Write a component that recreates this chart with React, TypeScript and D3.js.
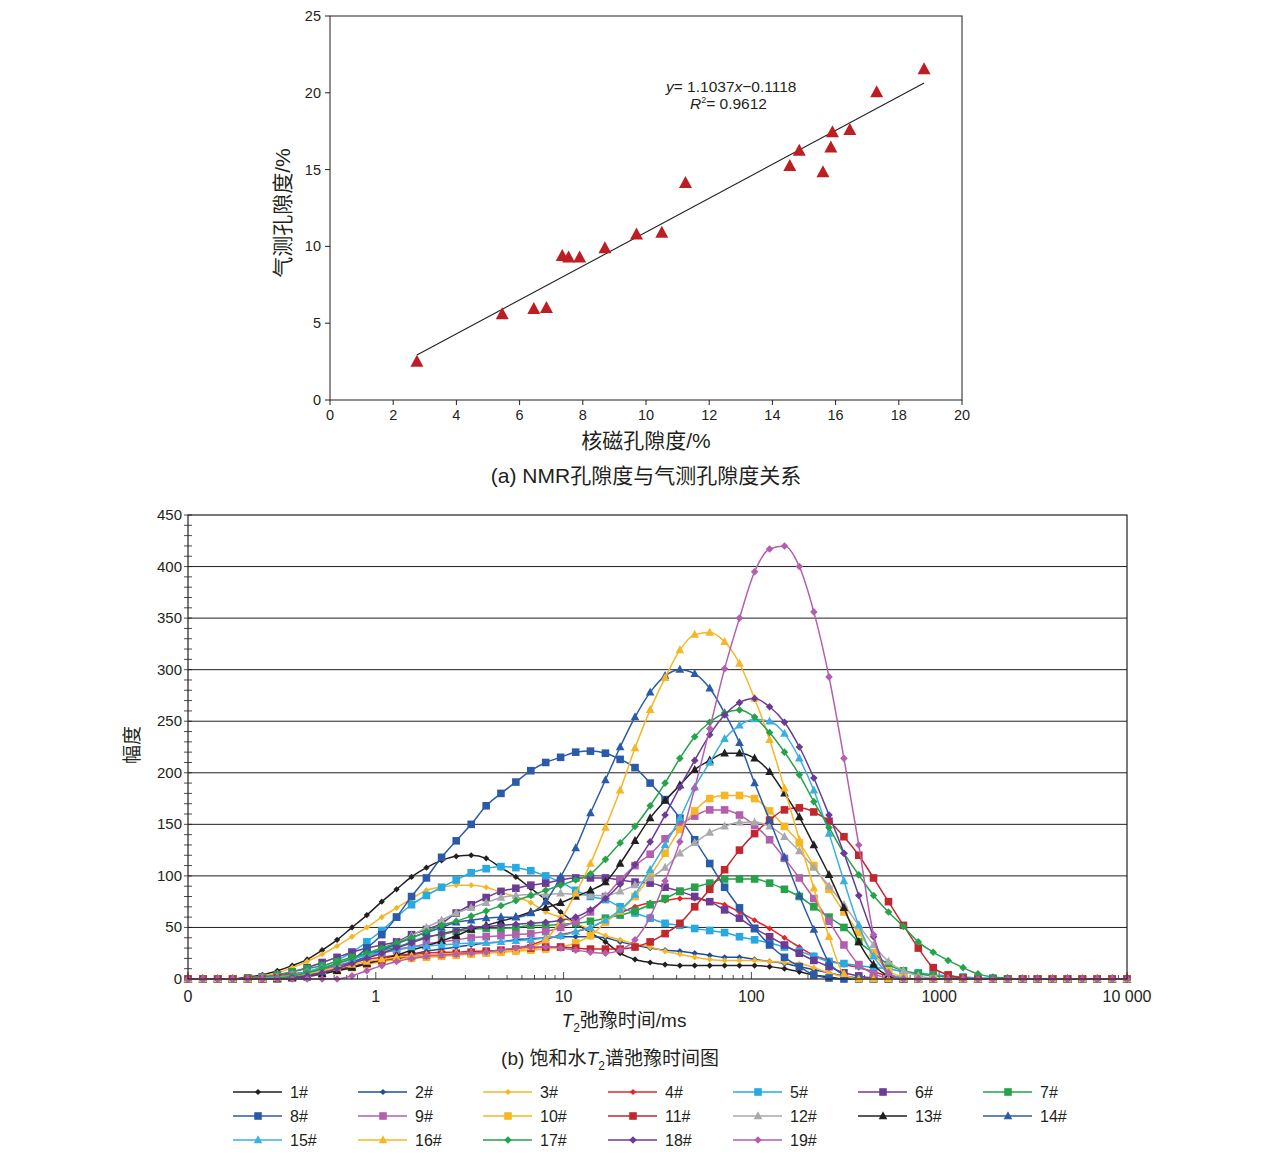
import React from "react";
import * as d3 from "d3";

// (a) scatter: NMR porosity vs gas porosity
const nmrPorosity = [2.75, 5.45, 6.45, 6.85, 7.35, 7.55, 7.9, 8.7, 9.7, 10.5, 11.25, 14.55, 14.85, 15.6, 15.9, 15.85, 16.45, 17.3, 18.8];
const gasPorosity = [2.45, 5.55, 5.9, 5.95, 9.35, 9.25, 9.25, 9.85, 10.75, 10.85, 14.1, 15.2, 16.2, 14.8, 17.4, 16.4, 17.55, 20.0, 21.5];
const fitSlope = 1.1037;
const fitIntercept = -0.1118;
const fitRange = [2.75, 18.8];
const scatterXTicks = [0, 2, 4, 6, 8, 10, 12, 14, 16, 18, 20];
const scatterYTicks = [0, 5, 10, 15, 20, 25];

// (b) T2 spectra, 64 log-spaced relaxation times (ms)
const t2Times = [
  0.1, 0.12, 0.144, 0.173, 0.208, 0.249, 0.299, 0.359,
  0.431, 0.518, 0.622, 0.747, 0.896, 1.076, 1.29, 1.55,
  1.86, 2.24, 2.68, 3.22, 3.87, 4.64, 5.57, 6.69,
  8.03, 9.64, 11.6, 13.9, 16.7, 20.0, 24.0, 28.9,
  34.7, 41.6, 49.9, 60.0, 72.0, 86.4, 104, 125,
  150, 180, 215, 259, 311, 373, 447, 537,
  645, 774, 929, 1116, 1340, 1608, 1931, 2317,
  2783, 3342, 4010, 4818, 5781, 6937, 8337, 10000,
];

const s1 = [0,0,0,0,2,4,8,13, 19,28,38,50,62,75,87,99, 108,115,119,120,117,108,99,88, 77,65,54,45,36,25,19,16, 14,13,13,13,13,13,13,12, 10,7,4,2,0,0,0,0, 0,0,0,0,0,0,0,0, 0,0,0,0,0,0,0,0];
const s2 = [0,0,0,0,0,0,1,2, 4,6,9,12,15,18,21,24, 27,29,31,33,35,36,38,39, 40,41,41,41,40,36,33,30, 28,27,25,23,21,21,19,17, 15,12,9,6,3,1,0,0, 0,0,0,0,0,0,0,0, 0,0,0,0,0,0,0,0];
const s3 = [0,0,0,0,1,3,6,11, 17,24,32,41,50,60,69,78, 86,89,91,91,89,84,80,74, 65,60,54,48,42,38,34,31, 27,24,21,19,18,18,18,17, 16,15,11,6,2,0,0,0, 0,0,0,0,0,0,0,0, 0,0,0,0,0,0,0,0];
const s4 = [0,0,0,0,1,2,3,5, 7,10,13,16,19,21,23,24, 25,26,26,27,27,28,30,33, 38,43,46,50,57,64,70,74, 76,78,78,75,72,65,57,49, 40,31,23,18,14,11,7,3, 1,0,0,0,0,0,0,0, 0,0,0,0,0,0,0,0];
const s5 = [0,0,0,0,0,1,2,4, 7,12,18,26,36,47,60,72, 81,89,96,103,107,109,108,105, 100,94,86,80,77,70,64,59, 54,52,49,47,45,41,38,35, 31,27,22,17,15,13,11,10, 7,6,4,3,2,1,1,0, 0,0,0,0,0,0,0,0];
const s6 = [0,0,0,0,1,2,4,7, 11,16,21,26,30,33,36,43, 48,54,64,72,79,85,88,91, 93,96,98,98,98,96,94,93, 89,85,80,75,67,59,49,41, 33,25,18,12,6,3,1,0, 0,0,0,0,0,0,0,0, 0,0,0,0,0,0,0,0];
const s7 = [0,0,0,0,1,2,4,7, 10,13,17,21,25,28,31,36, 41,43,46,48,49,49,50,52, 52,53,54,56,59,62,66,72, 78,85,89,93,97,97,97,93, 87,80,70,60,50,36,25,14, 8,5,3,2,1,0,0,0, 0,0,0,0,0,0,0,0];
const s8 = [0,0,0,0,0,0,0,1, 2,5,10,18,30,43,60,80, 98,118,134,150,168,180,191,202, 210,215,220,221,219,213,205,190, 174,156,135,112,89,69,49,33, 21,12,4,1,0,0,0,0, 0,0,0,0,0,0,0,0, 0,0,0,0,0,0,0,0];
const s9 = [0,0,0,0,0,1,2,4, 6,9,13,17,21,25,28,31, 34,36,38,40,41,42,43,44, 46,50,56,65,80,96,110,121, 136,149,158,164,164,159,149,135, 117,98,78,56,33,14,5,1, 0,0,0,0,0,0,0,0, 0,0,0,0,0,0,0,0];
const s10 = [0,0,0,0,0,0,0,1, 3,5,8,11,14,17,19,20, 21,22,23,24,25,26,27,28, 29,31,35,42,55,66,80,100, 122,145,163,175,178,178,175,163, 148,132,110,87,65,45,25,8, 2,0,0,0,0,0,0,0, 0,0,0,0,0,0,0,0];
const s11 = [0,0,0,0,0,0,1,2, 4,6,9,12,15,18,20,22, 23,24,25,26,27,28,29,30, 31,31,30,29,29,29,31,36, 44,54,70,87,106,125,141,154, 164,166,162,153,138,120,98,75, 52,30,11,4,1,0,0,0, 0,0,0,0,0,0,0,0];
const s12 = [0,0,0,0,0,0,1,2, 3,6,10,15,21,28,35,42, 50,57,64,69,74,79,81,82, 82,83,82,81,81,85,91,98, 108,122,132,142,148,152,152,148, 138,124,108,90,72,52,33,17, 8,3,1,0,0,0,0,0, 0,0,0,0,0,0,0,0];
const s13 = [0,0,0,0,0,0,0,1, 3,5,8,11,15,19,23,28, 32,37,42,48,52,56,60,65, 69,74,80,86,94,112,134,156, 173,188,203,212,219,219,214,201, 180,157,130,101,69,36,14,3, 0,0,0,0,0,0,0,0, 0,0,0,0,0,0,0,0];
const s14 = [0,0,0,0,0,0,1,2, 4,7,11,16,22,28,34,40, 45,50,55,57,59,60,60,64, 75,99,127,161,193,225,254,278, 294,300,296,282,258,229,190,154, 118,81,48,16,4,0,0,0, 0,0,0,0,0,0,0,0, 0,0,0,0,0,0,0,0];
const s15 = [0,0,0,0,0,1,2,4, 7,11,15,19,23,26,29,31, 32,33,34,35,35,36,37,38, 40,42,46,50,57,67,82,106, 130,156,186,210,233,246,252,250, 238,214,183,141,95,52,22,6, 1,0,0,0,0,0,0,0, 0,0,0,0,0,0,0,0];
const s16 = [0,0,0,0,0,0,1,3, 5,8,11,14,17,19,21,22, 23,24,25,25,26,27,28,31, 38,57,83,112,147,183,224,261, 292,319,334,336,327,306,272,232, 185,135,88,41,5,0,0,0, 0,0,0,0,0,0,0,0, 0,0,0,0,0,0,0,0];
const s17 = [0,0,0,0,0,0,1,3, 6,10,15,20,25,30,35,40, 46,52,56,61,66,71,76,81, 86,91,96,102,116,132,148,168, 190,214,235,249,258,261,254,239, 220,198,172,147,122,101,81,65, 51,36,26,18,11,5,2,1, 0,0,0,0,0,0,0,0];
const s18 = [0,0,0,0,0,0,0,1, 3,6,10,15,20,25,30,35, 40,44,47,50,51,52,53,54, 55,57,60,67,78,92,111,133, 159,186,212,237,256,268,272,264, 249,225,195,159,122,81,41,5, 0,0,0,0,0,0,0,0, 0,0,0,0,0,0,0,0];
const s19 = [0,0,0,0,0,0,0,0, 0,0,0,3,8,13,17,20, 22,23,24,25,26,28,30,31, 31,30,28,26,25,28,38,60, 95,133,185,243,301,350,395,417, 420,400,356,293,214,130,43,5, 0,0,0,0,0,0,0,0, 0,0,0,0,0,0,0,0];

const seriesNames = ["1#", "2#", "3#", "4#", "5#", "6#", "7#", "8#", "9#", "10#", "11#", "12#", "13#", "14#", "15#", "16#", "17#", "18#", "19#"];
const seriesValues = [s1, s2, s3, s4, s5, s6, s7, s8, s9, s10, s11, s12, s13, s14, s15, s16, s17, s18, s19];
const seriesColors = ["#231f20", "#1f4e9a", "#f6b626", "#e3242b", "#27a9e1", "#6c3b96", "#25a24a", "#2b5ba8", "#b35fae", "#f6b626", "#c1272d", "#a7a9ac", "#231f20", "#2b5ba8", "#3ab0e2", "#f6b626", "#25a24a", "#6c3b96", "#b35fae"];
const seriesMarkers = ["diamond", "diamond", "diamond", "diamond", "square", "square", "square", "square", "square", "square", "square", "triangle", "triangle", "triangle", "triangle", "triangle", "diamond", "diamond", "diamond"];

const t2MajorTicks = [0.1, 1, 10, 100, 1000, 10000];
const t2TickLabels = ["0", "1", "10", "100", "1000", "10 000"];
const ampTicks = [0, 50, 100, 150, 200, 250, 300, 350, 400, 450];

const FONT = "'Liberation Sans', Arial, 'Noto Sans CJK SC', sans-serif";
const INK = "#231f20";

function markerPath(kind: string, small: boolean): string {
  if (kind === "square") return "M-3.8,-3.8H3.8V3.8H-3.8Z";
  if (kind === "triangle") return "M0,-4.8L4.3,3.2L-4.3,3.2Z";
  const r = small ? 3.1 : 3.8;
  return `M0,${-r}L${r},0L0,${r}L${-r},0Z`;
}

function Scatter() {
  const x = d3.scaleLinear().domain([0, 20]).range([330, 962]);
  const y = d3.scaleLinear().domain([0, 25]).range([400, 16]);
  const tri = "M0,-7.5L6.5,4.5L-6.5,4.5Z";
  return (
    <g fontFamily={FONT} fill={INK}>
      <rect x={330} y={16} width={632} height={384} fill="none" stroke={INK} strokeWidth={1} />
      {scatterXTicks.map((t) => (
        <g key={"xt" + t}>
          <line x1={x(t)} x2={x(t)} y1={400} y2={405} stroke={INK} />
          <text x={x(t)} y={420} textAnchor="middle" fontSize={14.5}>{t}</text>
        </g>
      ))}
      {scatterYTicks.map((t) => (
        <g key={"yt" + t}>
          <line x1={325} x2={330} y1={y(t)} y2={y(t)} stroke={INK} />
          <text x={321} y={y(t) + 5} textAnchor="end" fontSize={14.5}>{t}</text>
        </g>
      ))}
      <line
        x1={x(fitRange[0])}
        y1={y(fitSlope * fitRange[0] + fitIntercept)}
        x2={x(fitRange[1])}
        y2={y(fitSlope * fitRange[1] + fitIntercept)}
        stroke={INK}
        strokeWidth={1.1}
      />
      {nmrPorosity.map((v, i) => (
        <path key={"p" + i} d={tri} transform={`translate(${x(v)},${y(gasPorosity[i])})`} fill="#bd1e24" />
      ))}
      <text x={666} y={92} fontSize={15.5}>
        <tspan fontStyle="italic">y</tspan>= 1.1037<tspan fontStyle="italic">x</tspan>−0.1118
      </text>
      <text x={690} y={109} fontSize={15.5}>
        <tspan fontStyle="italic">R</tspan>
        <tspan fontSize={9} dy={-6}>2</tspan>
        <tspan dy={6}>= 0.9612</tspan>
      </text>
      <text transform="translate(290,213) rotate(-90)" textAnchor="middle" fontSize={21}>气测孔隙度/%</text>
      <text x={646} y={448} textAnchor="middle" fontSize={21}>核磁孔隙度/%</text>
      <text x={646} y={483} textAnchor="middle" fontSize={21}>(a) NMR孔隙度与气测孔隙度关系</text>
    </g>
  );
}

function Spectra() {
  const x = d3.scaleLog().domain([0.1, 10000]).range([188, 1127]);
  const y = d3.scaleLinear().domain([0, 450]).range([979, 515]);
  const line = d3
    .line<number>()
    .x((_, i) => x(t2Times[i]))
    .y((d) => y(d))
    .curve(d3.curveMonotoneX);
  const minorX: number[] = [];
  [0.1, 1, 10, 100, 1000].forEach((dec) => {
    for (let m = 2; m <= 9; m++) minorX.push(dec * m);
  });
  const minorY = d3.range(0, 451, 10);
  return (
    <g fontFamily={FONT} fill={INK}>
      {ampTicks.slice(1, -1).map((t) => (
        <line key={"g" + t} x1={188} x2={1127} y1={y(t)} y2={y(t)} stroke={INK} strokeWidth={1} />
      ))}
      {minorY.map((t) => (
        <line key={"my" + t} x1={184} x2={192} y1={y(t)} y2={y(t)} stroke={INK} strokeWidth={0.8} />
      ))}
      {minorX.map((t) => (
        <line key={"mx" + t} x1={x(t)} x2={x(t)} y1={979} y2={975} stroke={INK} strokeWidth={0.8} />
      ))}
      {t2MajorTicks.map((t, i) => (
        <g key={"xt" + t}>
          <line x1={x(t)} x2={x(t)} y1={979} y2={972} stroke={INK} strokeWidth={0.8} />
          <text x={x(t)} y={1002} textAnchor="middle" fontSize={16}>{t2TickLabels[i]}</text>
        </g>
      ))}
      {ampTicks.map((t) => (
        <text key={"yl" + t} x={182} y={y(t) + 5} textAnchor="end" fontSize={15}>{t}</text>
      ))}
      {seriesValues.map((vals, k) => (
        <g key={"s" + k}>
          <path d={line(vals) || ""} fill="none" stroke={seriesColors[k]} strokeWidth={1.5} />
          {vals.map((v, i) => (
            <path
              key={i}
              d={markerPath(seriesMarkers[k], k < 4)}
              transform={`translate(${x(t2Times[i])},${y(v)})`}
              fill={seriesColors[k]}
            />
          ))}
        </g>
      ))}
      <rect x={188} y={515} width={939} height={464} fill="none" stroke={INK} strokeWidth={1.2} />
      <text transform="translate(139,745) rotate(-90)" textAnchor="middle" fontSize={19}>幅度</text>
      <text x={624} y={1027} textAnchor="middle" fontSize={19}>
        <tspan fontStyle="italic">T</tspan>
        <tspan fontSize={12} dy={5}>2</tspan>
        <tspan dy={-5}>弛豫时间/ms</tspan>
      </text>
      <text x={610} y={1065} textAnchor="middle" fontSize={19}>
        (b) 饱和水<tspan fontStyle="italic">T</tspan>
        <tspan fontSize={12} dy={5}>2</tspan>
        <tspan dy={-5}>谱弛豫时间图</tspan>
      </text>
      {seriesNames.map((name, k) => {
        const col = k % 7;
        const row = Math.floor(k / 7);
        const lx = 233 + col * 125;
        const ly = 1092 + row * 24;
        return (
          <g key={"lg" + k}>
            <line x1={lx} x2={lx + 49} y1={ly} y2={ly} stroke={seriesColors[k]} strokeWidth={1.6} />
            <path d={markerPath(seriesMarkers[k], k < 4)} transform={`translate(${lx + 25},${ly})`} fill={seriesColors[k]} />
            <text x={lx + 57} y={ly + 6} fontSize={16}>{name}</text>
          </g>
        );
      })}
    </g>
  );
}

export default function App() {
  return (
    <svg width={1268} height={1162} style={{ position: "absolute", left: 0, top: 0, background: "#fff" }}>
      <rect width={1268} height={1162} fill="#fff" />
      <Scatter />
      <Spectra />
    </svg>
  );
}
